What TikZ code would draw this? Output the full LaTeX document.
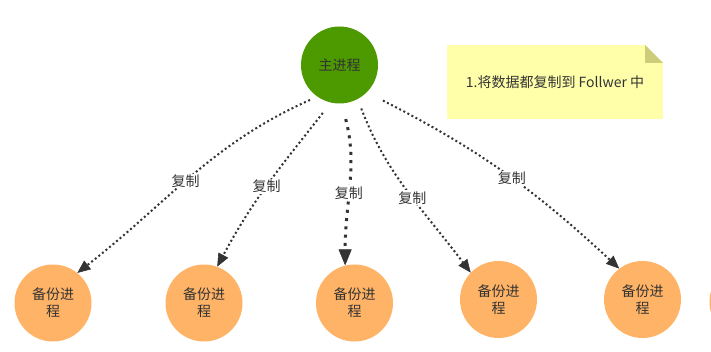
\documentclass[tikz,border=0pt]{standalone}
\usepackage{fontspec}
\newfontfamily\cjk{Noto Sans CJK SC}
\usetikzlibrary{arrows.meta}
\definecolor{maingreen}{RGB}{77,153,0}
\definecolor{backorange}{RGB}{255,179,102}
\definecolor{noteyellow}{RGB}{255,255,170}
\definecolor{notefold}{RGB}{204,204,122}
\definecolor{inkgray}{RGB}{51,51,51}

\begin{document}
\begin{tikzpicture}[x=1pt, y=1pt,
  mainnode/.style={circle, fill=maingreen, minimum size=77pt, inner sep=0pt, text=inkgray, font=\cjk\fontsize{14}{17}\selectfont},
  backup/.style={circle, fill=backorange, minimum size=77pt, inner sep=0pt, align=center, text=inkgray, font=\cjk\fontsize{14}{17}\selectfont},
  note/.style={rectangle, fill=noteyellow, minimum width=216pt, minimum height=74pt, inner sep=0pt, text=inkgray, font=\cjk\fontsize{14}{17}\selectfont,
    path picture={
      \fill[white] ([xshift=-18pt]path picture bounding box.north east) -- (path picture bounding box.north east) -- ([yshift=-18pt]path picture bounding box.north east) -- cycle;
      \fill[notefold] ([xshift=-18pt]path picture bounding box.north east) -- ([yshift=-18pt]path picture bounding box.north east) -- ([xshift=-18pt, yshift=-18pt]path picture bounding box.north east) -- cycle;
    }},
  copyedge/.style={draw=inkgray, line width=2pt, dash pattern={on 2pt off 2.6pt}, -{Triangle[length=13pt, width=11pt, line width=0.6pt]}},
  copybold/.style={copyedge, line width=3pt, dash pattern={on 3pt off 5.3pt}, -{Triangle[length=16pt, width=13pt, line width=0.6pt]}},
  copylbl/.style={fill=white, inner sep=1pt, text=inkgray, font=\cjk\fontsize{14}{17}\selectfont}
]
  \useasboundingbox (0,0) rectangle (711,-352);
  \clip (0,0) rectangle (711,-352);

  % master and the note
  \node[mainnode] (main) at (339.5,-65) {主进程};
  \node[note] (tip) at (555,-82) {1.将数据都复制到 Follwer 中};

  % backups
  \node[backup] (b1) at (53,-303) {备份进\\程};
  \node[backup] (b2) at (204,-303) {备份进\\程};
  \node[backup] (b3) at (354.5,-303) {备份进\\程};
  \node[backup] (b4) at (498.5,-299.5) {备份进\\程};
  \node[backup] (b5) at (642.5,-299.5) {备份进\\程};
  \node[backup] (b6) at (748,-302) {};

  % copy edges
  \draw[copyedge, shorten <=8pt] (main.235) to[out=204, in=38] node[copylbl, pos=.53] {复制} (b1.51);
  \draw[copyedge, shorten <=13pt] (main.257) to[out=232, in=62] node[copylbl, pos=.53] {复制} (b2.70);
  \draw[copybold, shorten <=16pt] (main.273) to[out=285, in=90] node[copylbl, pos=.56] {复制} (b3.104);
  \draw[copyedge, shorten <=10pt] (main.298) to[out=291, in=127] node[copylbl, pos=.55] {复制} (b4.136);
  \draw[copyedge, shorten <=18pt] (main.315) to[out=333, in=137] node[copylbl, pos=.55] {复制} (b5.127);
\end{tikzpicture}
\end{document}
